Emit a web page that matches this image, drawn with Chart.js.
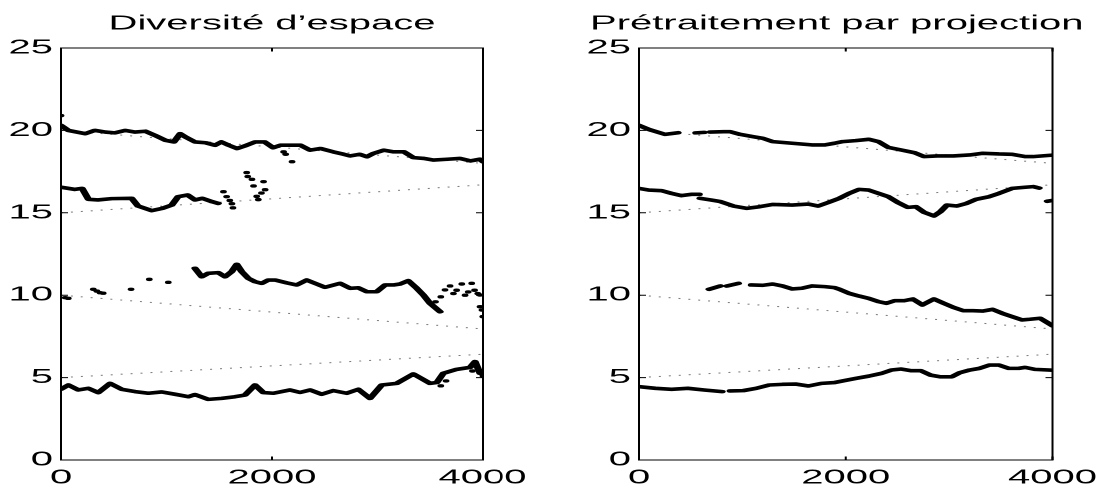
<!DOCTYPE html>
<html>
<head>
<meta charset="utf-8">
<script src="https://cdn.jsdelivr.net/npm/chart.js@4/dist/chart.umd.min.js"></script>
<style>
  html, body { margin: 0; padding: 0; background: #fff; overflow: hidden; width: 1109px; height: 487px; }
  #wrap { position: absolute; left: 0; top: 0; width: 555px; height: 487px; transform: scaleX(1.998); transform-origin: 0 0; }
  .box { position: absolute; top: 0; height: 487px; }
</style>
</head>
<body>
<div id="wrap">
  <div class="box" style="left:0;width:277px"><canvas id="c1"></canvas></div>
  <div class="box" style="left:277px;width:278px"><canvas id="c2"></canvas></div>
</div>
<script>
// ---------- titles & ticks ----------
const titleLeft = "Diversité d\u2019espace";
const titleRight = "Prétraitement par projection";
const xTickValues = [0, 2000, 4000];
const yTickValues = [0, 5, 10, 15, 20, 25];

// ---------- dotted reference lines (both panels) ----------
const xRef = [0, 4000];
const ref20 = [20, 18];
const ref15 = [15, 16.7];
const ref10 = [10, 7.95];
const ref5 = [5, 6.42];

// ---------- left panel: "Diversité d'espace" ----------
const xA_L = [0, 70, 230, 320, 420, 510, 610, 700, 800, 890, 990, 1070, 1130, 1180, 1270, 1370, 1460, 1520, 1590, 1670, 1740, 1840, 1930, 2010, 2080, 2170, 2270, 2360, 2460, 2580, 2680, 2740, 2830, 2900, 2960, 3060, 3150, 3250, 3340, 3440, 3530, 3660, 3780, 3880, 3970, 4000];
const yA_L = [20.3, 20.0, 19.8, 20.0, 19.9, 19.85, 20.0, 19.9, 19.95, 19.7, 19.4, 19.3, 19.8, 19.6, 19.3, 19.25, 19.1, 19.3, 19.1, 18.9, 19.05, 19.3, 19.3, 18.95, 19.1, 19.1, 19.1, 18.8, 18.9, 18.7, 18.55, 18.45, 18.55, 18.4, 18.6, 18.8, 18.7, 18.7, 18.35, 18.3, 18.2, 18.25, 18.3, 18.15, 18.25, 18.1];

const xB_L = [0, 130, 200, 260, 350, 480, 670, 730, 860, 960, 1050, 1110, 1200, 1270, 1340, 1430, 1490];
const yB_L = [16.55, 16.42, 16.48, 15.82, 15.78, 15.86, 15.88, 15.41, 15.13, 15.27, 15.47, 15.98, 16.08, 15.78, 15.88, 15.68, 15.57];

const xC_L = [1270, 1334, 1396, 1491, 1555, 1618, 1666, 1713, 1776, 1839, 1903, 1965, 2029, 2140, 2234, 2329, 2424, 2503, 2645, 2740, 2818, 2898, 2993, 3072, 3150, 3214, 3292, 3372, 3435, 3498, 3593];
const yC_L = [11.63, 11.12, 11.33, 11.37, 11.12, 11.43, 11.87, 11.43, 11.02, 10.82, 10.72, 10.92, 10.92, 10.75, 10.62, 10.92, 10.68, 10.48, 10.72, 10.42, 10.45, 10.21, 10.21, 10.62, 10.62, 10.68, 10.88, 10.42, 10.01, 9.51, 9.0];

const xD_L = [0, 70, 164, 259, 354, 465, 575, 702, 828, 955, 1081, 1207, 1270, 1396, 1523, 1650, 1744, 1839, 1918, 2013, 2171, 2266, 2361, 2471, 2581, 2708, 2818, 2929, 3040, 3182, 3340, 3498, 3562, 3624, 3751, 3877, 3925, 3972, 4000];
const yD_L = [4.3, 4.55, 4.25, 4.35, 4.09, 4.65, 4.29, 4.15, 4.05, 4.13, 3.99, 3.84, 3.97, 3.68, 3.74, 3.84, 3.94, 4.55, 4.09, 4.05, 4.25, 4.1, 4.25, 3.99, 4.21, 4.05, 4.29, 3.74, 4.55, 4.65, 5.22, 4.65, 4.7, 5.26, 5.5, 5.62, 5.97, 5.26, 5.2];

// isolated dots (left panel)
const xDots_L = [0, 2110, 2130, 2190, 1540, 1570, 1600, 1630, 1620, 1760, 1770, 1810, 1825, 1855, 1870, 1920, 1935, 1900, 40, 69, 306, 340, 370, 400, 664, 837, 1017, 3550, 3600, 3640, 3688, 3720, 3750, 3799, 3830, 3860, 3893, 3920, 3950, 3972, 3972, 3998, 3990, 3600, 3650, 3900, 4000];
const yDots_L = [20.9, 18.7, 18.55, 18.1, 16.28, 15.98, 15.75, 15.3, 15.55, 17.44, 17.2, 17.03, 16.63, 16.0, 15.8, 16.89, 16.4, 16.2, 9.85, 9.81, 10.36, 10.25, 10.15, 10.12, 10.36, 10.96, 10.78, 9.6, 9.9, 10.32, 10.56, 10.1, 10.3, 10.68, 10.0, 10.2, 10.72, 10.3, 10.1, 10.01, 9.3, 8.7, 9.1, 4.5, 4.8, 5.4, 5.1];

// ---------- right panel: "Prétraitement par projection" ----------
const xA_R = [0, 95, 252, 378, 420, 550, 630, 660, 690, 820, 882, 977, 1104, 1198, 1293, 1482, 1671, 1797, 1891, 1970, 2096, 2222, 2317, 2411, 2537, 2664, 2758, 2884, 3042, 3199, 3326, 3483, 3609, 3735, 3811, 4000];
const yA_R = [20.3, 20.06, 19.76, 19.86, null, 19.85, 19.88, null, 19.9, 19.92, 19.92, 19.76, 19.62, 19.52, 19.32, 19.22, 19.12, 19.12, 19.22, 19.32, 19.38, 19.46, 19.32, 18.97, 18.81, 18.65, 18.41, 18.45, 18.45, 18.51, 18.61, 18.57, 18.55, 18.41, 18.41, 18.5];

const xB_R = [0, 95, 220, 315, 409, 504, 583, 586, 590, 693, 788, 914, 1040, 1166, 1293, 1482, 1639, 1733, 1828, 1938, 2033, 2128, 2222, 2317, 2411, 2506, 2600, 2679, 2758, 2853, 2915, 2979, 3073, 3168, 3262, 3388, 3483, 3609, 3735, 3814, 3870, 3910, 3950, 4000];
const yB_R = [16.48, 16.38, 16.34, 16.18, 16.04, 16.12, 16.12, null, 15.88, 15.78, 15.68, 15.41, 15.27, 15.37, 15.51, 15.47, 15.53, 15.41, 15.62, 15.88, 16.18, 16.42, 16.38, 16.18, 15.98, 15.62, 15.33, 15.37, 15.03, 14.81, 15.07, 15.47, 15.41, 15.57, 15.82, 15.98, 16.18, 16.48, 16.55, 16.59, 16.5, null, 15.7, 15.75];

const xC_R = [678, 788, 820, 851, 962, 1020, 1087, 1198, 1293, 1387, 1482, 1576, 1671, 1797, 1891, 1938, 2033, 2128, 2222, 2317, 2395, 2475, 2569, 2648, 2742, 2853, 2947, 3042, 3137, 3231, 3326, 3420, 3515, 3609, 3704, 3782, 3880, 4000];
const yC_R = [10.36, 10.56, null, 10.56, 10.72, null, 10.62, 10.6, 10.68, 10.56, 10.38, 10.42, 10.56, 10.52, 10.46, 10.36, 10.11, 9.95, 9.81, 9.61, 9.51, 9.67, 9.67, 9.77, 9.41, 9.77, 9.51, 9.26, 9.06, 9.06, 9.04, 9.14, 8.9, 8.7, 8.5, 8.54, 8.6, 8.15];

const xD_R = [0, 158, 315, 473, 630, 804, 840, 882, 1009, 1135, 1260, 1387, 1513, 1639, 1765, 1891, 1970, 2096, 2222, 2348, 2443, 2537, 2632, 2726, 2821, 2915, 3026, 3104, 3199, 3293, 3388, 3483, 3577, 3672, 3735, 3830, 4000];
const yD_R = [4.45, 4.35, 4.29, 4.35, 4.25, 4.15, null, 4.19, 4.21, 4.35, 4.55, 4.59, 4.61, 4.49, 4.65, 4.7, 4.8, 4.95, 5.09, 5.26, 5.46, 5.52, 5.42, 5.42, 5.15, 5.05, 5.05, 5.3, 5.46, 5.56, 5.76, 5.76, 5.56, 5.56, 5.62, 5.5, 5.45];

// ---------- helpers ----------
const FONT = '"Liberation Sans", Arial, Helvetica, sans-serif';
function pts(xs, ys) { return xs.map((x, i) => ({ x: x, y: ys[i] })); }
function lineDs(xs, ys) {
  return { data: pts(xs, ys), showLine: true, borderColor: '#000', borderWidth: 3.6,
           pointRadius: 0, spanGaps: false, tension: 0,
           borderJoinStyle: 'round', borderCapStyle: 'round' };
}
function refDs(ys) {
  return { data: pts(xRef, ys), showLine: true, borderColor: '#7a7a7a', borderWidth: 1,
           borderDash: [1, 4], pointRadius: 0, tension: 0 };
}
function dotDs(xs, ys) {
  return { data: pts(xs, ys), showLine: false, pointRadius: 1.7, pointStyle: 'circle',
           pointBackgroundColor: '#000', pointBorderWidth: 0, borderColor: '#000' };
}

const boxPlugin = {
  id: 'mbox',
  afterDatasetsDraw(chart) {
    const ctx = chart.ctx, a = chart.chartArea, sx = chart.scales.x, sy = chart.scales.y;
    const L = 3.5;
    ctx.save();
    ctx.strokeStyle = '#000';
    ctx.lineWidth = 1;
    ctx.beginPath();
    sx.ticks.forEach(t => {
      const p = sx.getPixelForValue(t.value);
      ctx.moveTo(p, a.bottom); ctx.lineTo(p, a.bottom - L);
      ctx.moveTo(p, a.top); ctx.lineTo(p, a.top + L);
    });
    sy.ticks.forEach(t => {
      const p = sy.getPixelForValue(t.value);
      ctx.moveTo(a.left, p); ctx.lineTo(a.left + L, p);
      ctx.moveTo(a.right, p); ctx.lineTo(a.right - L, p);
    });
    ctx.stroke();
    ctx.strokeRect(a.left, a.top, a.right - a.left, a.bottom - a.top);
    ctx.restore();
  },
  afterDraw(chart, args, opts) {
    const ctx = chart.ctx, a = chart.chartArea;
    ctx.save();
    ctx.fillStyle = '#000';
    ctx.font = '20px ' + FONT;
    ctx.textAlign = 'center';
    ctx.textBaseline = 'alphabetic';
    ctx.fillText(opts.text, (a.left + a.right) / 2 + (opts.dx || 0), 29.5);
    ctx.restore();
  }
};

function makeChart(id, datasets, yWidth, padRight, title, dx) {
  return new Chart(document.getElementById(id), {
    type: 'scatter',
    data: { datasets: datasets },
    plugins: [boxPlugin],
    options: {
      responsive: true,
      maintainAspectRatio: false,
      devicePixelRatio: 2,
      animation: false,
      locale: 'en-US',
      layout: { padding: { top: 48, right: padRight, left: 0, bottom: 0 } },
      plugins: { legend: { display: false }, tooltip: { enabled: false }, title: { display: false },
                 mbox: { text: title, dx: dx } },
      scales: {
        x: {
          type: 'linear', min: 0, max: 4000,
          afterBuildTicks(s) { s.ticks = xTickValues.map(v => ({ value: v })); },
          afterFit(s) { s.height = 27; },
          grid: { display: false, drawTicks: false, tickLength: 0 }, border: { display: false },
          ticks: { color: '#000', font: { family: FONT, size: 20 }, padding: 6, maxRotation: 0, autoSkip: false,
                   callback: v => String(v) }
        },
        y: {
          type: 'linear', min: 0, max: 25,
          afterBuildTicks(s) { s.ticks = yTickValues.map(v => ({ value: v })); },
          afterFit(s) { s.width = yWidth; },
          grid: { display: false, drawTicks: false, tickLength: 0 }, border: { display: false },
          ticks: { color: '#000', font: { family: FONT, size: 20 }, padding: 4, autoSkip: false,
                   callback: v => String(v) }
        }
      }
    }
  });
}

makeChart('c1', [
  lineDs(xA_L, yA_L), lineDs(xB_L, yB_L), lineDs(xC_L, yC_L), lineDs(xD_L, yD_L),
  dotDs(xDots_L, yDots_L),
  refDs(ref20), refDs(ref15), refDs(ref10), refDs(ref5)
], 30.5, 35.5, titleLeft, 0);

makeChart('c2', [
  lineDs(xA_R, yA_R), lineDs(xB_R, yB_R), lineDs(xC_R, yC_R), lineDs(xD_R, yD_R),
  refDs(ref20), refDs(ref15), refDs(ref10), refDs(ref5)
], 43, 23.5, titleRight, -4.5);
</script>
</body>
</html>
